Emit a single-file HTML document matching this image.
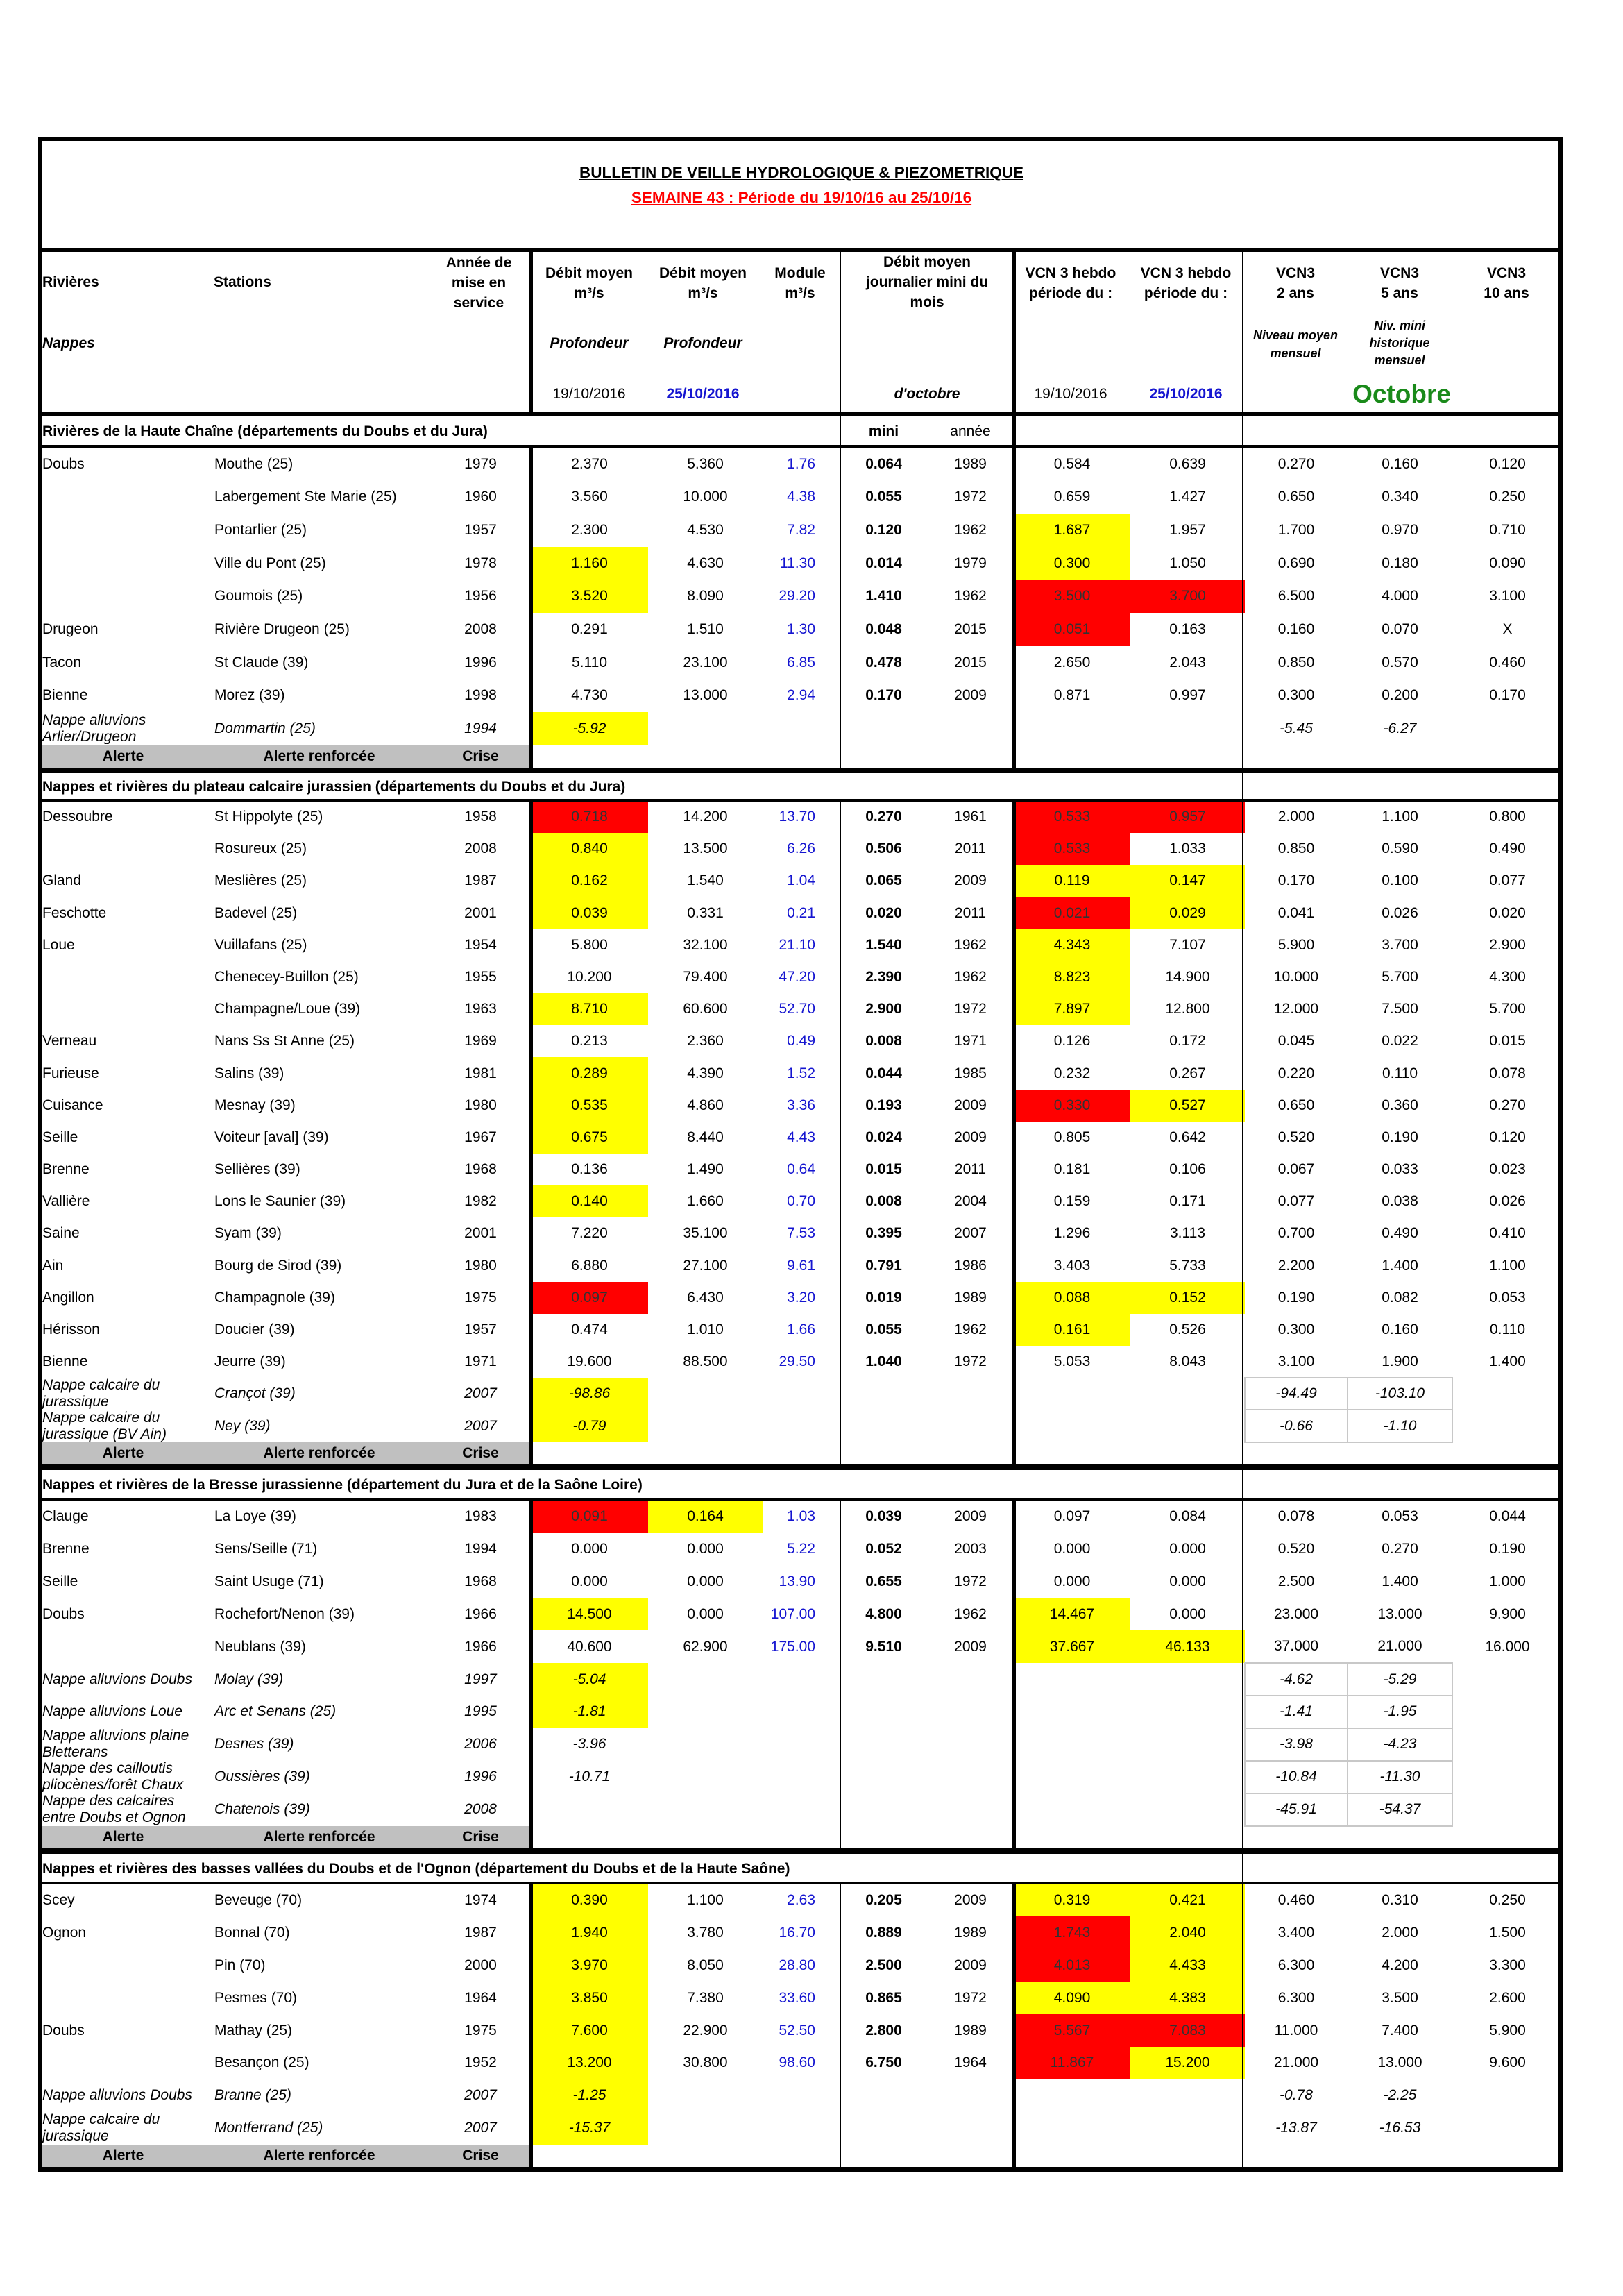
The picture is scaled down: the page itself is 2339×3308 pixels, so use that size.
<!DOCTYPE html>
<html><head><meta charset="utf-8"><style>
html,body{margin:0;padding:0;background:#fff}
body{width:2339px;height:3308px;position:relative;overflow:hidden;font-family:"Liberation Sans",Arial,sans-serif;font-size:21px;color:#000}
.a{position:absolute;white-space:nowrap}
.c{transform:translateX(-50%);text-align:center}
.L{position:absolute;background:#000}
table{position:absolute;left:55px;top:598px;width:2197px;border-collapse:collapse;table-layout:fixed}
td{padding:0;text-align:center;vertical-align:middle;white-space:nowrap;overflow:visible}
tr.d td:nth-child(1){text-align:left;padding-left:6px}
tr.d td:nth-child(2){text-align:left;padding-left:9px}
tr.d td:nth-child(6){text-align:right;padding-right:36px;color:#1515d0}
tr.d td:nth-child(7){font-weight:bold}
tr.n td{font-style:italic}
tr.n td:nth-child(1){font-size:21px;line-height:24px;white-space:normal;overflow:hidden;max-height:46px}
tr.n td:nth-child(1) div{height:44px;overflow:hidden;display:flex;flex-direction:column;justify-content:center}
.Y{background:#ffff00}.R{background:#ff0000;color:#333}
.g td:nth-child(11),.g td:nth-child(12){border:2px solid #c8c8c8}
tr.al td{font-weight:bold}
tr.al td.gr{background:#c0c0c0}
.st{text-align:left!important;padding-left:6px!important;font-weight:bold}
.p8 td{padding-top:8px}
.h1{height:47.67px}.h2{height:46.2px}.h3{height:46.9px}.h4{height:46.875px}
</style></head><body>

<div class="a c" style="left:1155px;top:236px;font-weight:bold;text-decoration:underline;font-size:22.5px">BULLETIN DE VEILLE HYDROLOGIQUE &amp; PIEZOMETRIQUE</div>
<div class="a c" style="left:1155px;top:272px;font-weight:bold;text-decoration:underline;color:#f00;font-size:22.5px">SEMAINE 43 : Période du 19/10/16 au 25/10/16</div>

<div class="a" style="left:61px;top:395px;font-weight:bold">Rivières</div>
<div class="a" style="left:308px;top:395px;font-weight:bold">Stations</div>
<div class="a c" style="left:690px;top:364px;font-weight:bold;line-height:29px">Année de<br>mise en<br>service</div>
<div class="a c" style="left:849px;top:379px;font-weight:bold;line-height:29px">Débit moyen<br>m³/s</div>
<div class="a c" style="left:1013px;top:379px;font-weight:bold;line-height:29px">Débit moyen<br>m³/s</div>
<div class="a c" style="left:1153px;top:379px;font-weight:bold;line-height:29px">Module<br>m³/s</div>
<div class="a c" style="left:1336px;top:363px;font-weight:bold;line-height:29px">Débit moyen<br>journalier mini du<br>mois</div>
<div class="a c" style="left:1543px;top:379px;font-weight:bold;line-height:29px">VCN 3 hebdo<br>période du :</div>
<div class="a c" style="left:1709px;top:379px;font-weight:bold;line-height:29px">VCN 3 hebdo<br>période du :</div>
<div class="a c" style="left:1867px;top:379px;font-weight:bold;line-height:29px">VCN3<br>2 ans</div>
<div class="a c" style="left:2017px;top:379px;font-weight:bold;line-height:29px">VCN3<br>5 ans</div>
<div class="a c" style="left:2171px;top:379px;font-weight:bold;line-height:29px">VCN3<br>10 ans</div>
<div class="a" style="left:61px;top:483px;font-weight:bold;font-style:italic">Nappes</div>
<div class="a c" style="left:849px;top:483px;font-weight:bold;font-style:italic">Profondeur</div>
<div class="a c" style="left:1013px;top:483px;font-weight:bold;font-style:italic">Profondeur</div>
<div class="a c" style="left:1867px;top:470px;font-weight:bold;font-style:italic;font-size:18px;line-height:26px">Niveau moyen<br>mensuel</div>
<div class="a c" style="left:2017px;top:457px;font-weight:bold;font-style:italic;font-size:18px;line-height:25px">Niv. mini<br>historique<br>mensuel</div>
<div class="a c" style="left:849px;top:556px">19/10/2016</div>
<div class="a c" style="left:1013px;top:556px;color:#1515d0;font-weight:bold">25/10/2016</div>
<div class="a c" style="left:1336px;top:556px;font-weight:bold;font-style:italic">d'octobre</div>
<div class="a c" style="left:1543px;top:556px">19/10/2016</div>
<div class="a c" style="left:1709px;top:556px;color:#1515d0;font-weight:bold">25/10/2016</div>
<div class="a c" style="left:2020px;top:547px;color:#1a8a1a;font-weight:bold;font-size:37px">Octobre</div>

<table>
<colgroup><col style="width:245px"><col style="width:320px"><col style="width:145px"><col style="width:169px"><col style="width:165px"><col style="width:112px"><col style="width:125px"><col style="width:125px"><col style="width:168px"><col style="width:165px"><col style="width:148px"><col style="width:151px"><col style="width:159px"></colgroup>
<tr style="height:47px"><td colspan="6" class="st">Rivières de la Haute Chaîne (départements du Doubs et du Jura)</td><td><b>mini</b></td><td>année</td><td colspan="5"></td></tr>
<tr class="d h1"><td>Doubs</td><td>Mouthe (25)</td><td>1979</td><td>2.370</td><td>5.360</td><td>1.76</td><td>0.064</td><td>1989</td><td>0.584</td><td>0.639</td><td>0.270</td><td>0.160</td><td>0.120</td></tr>
<tr class="d h1"><td></td><td>Labergement Ste Marie (25)</td><td>1960</td><td>3.560</td><td>10.000</td><td>4.38</td><td>0.055</td><td>1972</td><td>0.659</td><td>1.427</td><td>0.650</td><td>0.340</td><td>0.250</td></tr>
<tr class="d h1"><td></td><td>Pontarlier (25)</td><td>1957</td><td>2.300</td><td>4.530</td><td>7.82</td><td>0.120</td><td>1962</td><td class="Y">1.687</td><td>1.957</td><td>1.700</td><td>0.970</td><td>0.710</td></tr>
<tr class="d h1"><td></td><td>Ville du Pont (25)</td><td>1978</td><td class="Y">1.160</td><td>4.630</td><td>11.30</td><td>0.014</td><td>1979</td><td class="Y">0.300</td><td>1.050</td><td>0.690</td><td>0.180</td><td>0.090</td></tr>
<tr class="d h1"><td></td><td>Goumois (25)</td><td>1956</td><td class="Y">3.520</td><td>8.090</td><td>29.20</td><td>1.410</td><td>1962</td><td class="R">3.500</td><td class="R">3.700</td><td>6.500</td><td>4.000</td><td>3.100</td></tr>
<tr class="d h1"><td>Drugeon</td><td>Rivière Drugeon (25)</td><td>2008</td><td>0.291</td><td>1.510</td><td>1.30</td><td>0.048</td><td>2015</td><td class="R">0.051</td><td>0.163</td><td>0.160</td><td>0.070</td><td>X</td></tr>
<tr class="d h1"><td>Tacon</td><td>St Claude (39)</td><td>1996</td><td>5.110</td><td>23.100</td><td>6.85</td><td>0.478</td><td>2015</td><td>2.650</td><td>2.043</td><td>0.850</td><td>0.570</td><td>0.460</td></tr>
<tr class="d h1"><td>Bienne</td><td>Morez (39)</td><td>1998</td><td>4.730</td><td>13.000</td><td>2.94</td><td>0.170</td><td>2009</td><td>0.871</td><td>0.997</td><td>0.300</td><td>0.200</td><td>0.170</td></tr>
<tr class="d n h1"><td><div>Nappe alluvions Arlier/Drugeon</div></td><td>Dommartin (25)</td><td>1994</td><td class="Y">-5.92</td><td></td><td></td><td></td><td></td><td></td><td></td><td>-5.45</td><td>-6.27</td><td></td></tr>
<tr class="al" style="height:32px"><td class="gr">Alerte</td><td class="gr">Alerte renforcée</td><td class="gr">Crise</td><td colspan="10"></td></tr>

<tr class="p8" style="height:48px"><td colspan="13" class="st">Nappes et rivières du plateau calcaire jurassien (départements du Doubs et du Jura)</td></tr>
<tr class="d h2"><td>Dessoubre</td><td>St Hippolyte (25)</td><td>1958</td><td class="R">0.718</td><td>14.200</td><td>13.70</td><td>0.270</td><td>1961</td><td class="R">0.533</td><td class="R">0.957</td><td>2.000</td><td>1.100</td><td>0.800</td></tr>
<tr class="d h2"><td></td><td>Rosureux (25)</td><td>2008</td><td class="Y">0.840</td><td>13.500</td><td>6.26</td><td>0.506</td><td>2011</td><td class="R">0.533</td><td>1.033</td><td>0.850</td><td>0.590</td><td>0.490</td></tr>
<tr class="d h2"><td>Gland</td><td>Meslières (25)</td><td>1987</td><td class="Y">0.162</td><td>1.540</td><td>1.04</td><td>0.065</td><td>2009</td><td class="Y">0.119</td><td class="Y">0.147</td><td>0.170</td><td>0.100</td><td>0.077</td></tr>
<tr class="d h2"><td>Feschotte</td><td>Badevel (25)</td><td>2001</td><td class="Y">0.039</td><td>0.331</td><td>0.21</td><td>0.020</td><td>2011</td><td class="R">0.021</td><td class="Y">0.029</td><td>0.041</td><td>0.026</td><td>0.020</td></tr>
<tr class="d h2"><td>Loue</td><td>Vuillafans (25)</td><td>1954</td><td>5.800</td><td>32.100</td><td>21.10</td><td>1.540</td><td>1962</td><td class="Y">4.343</td><td>7.107</td><td>5.900</td><td>3.700</td><td>2.900</td></tr>
<tr class="d h2"><td></td><td>Chenecey-Buillon (25)</td><td>1955</td><td>10.200</td><td>79.400</td><td>47.20</td><td>2.390</td><td>1962</td><td class="Y">8.823</td><td>14.900</td><td>10.000</td><td>5.700</td><td>4.300</td></tr>
<tr class="d h2"><td></td><td>Champagne/Loue (39)</td><td>1963</td><td class="Y">8.710</td><td>60.600</td><td>52.70</td><td>2.900</td><td>1972</td><td class="Y">7.897</td><td>12.800</td><td>12.000</td><td>7.500</td><td>5.700</td></tr>
<tr class="d h2"><td>Verneau</td><td>Nans Ss St Anne (25)</td><td>1969</td><td>0.213</td><td>2.360</td><td>0.49</td><td>0.008</td><td>1971</td><td>0.126</td><td>0.172</td><td>0.045</td><td>0.022</td><td>0.015</td></tr>
<tr class="d h2"><td>Furieuse</td><td>Salins (39)</td><td>1981</td><td class="Y">0.289</td><td>4.390</td><td>1.52</td><td>0.044</td><td>1985</td><td>0.232</td><td>0.267</td><td>0.220</td><td>0.110</td><td>0.078</td></tr>
<tr class="d h2"><td>Cuisance</td><td>Mesnay (39)</td><td>1980</td><td class="Y">0.535</td><td>4.860</td><td>3.36</td><td>0.193</td><td>2009</td><td class="R">0.330</td><td class="Y">0.527</td><td>0.650</td><td>0.360</td><td>0.270</td></tr>
<tr class="d h2"><td>Seille</td><td>Voiteur [aval] (39)</td><td>1967</td><td class="Y">0.675</td><td>8.440</td><td>4.43</td><td>0.024</td><td>2009</td><td>0.805</td><td>0.642</td><td>0.520</td><td>0.190</td><td>0.120</td></tr>
<tr class="d h2"><td>Brenne</td><td>Sellières (39)</td><td>1968</td><td>0.136</td><td>1.490</td><td>0.64</td><td>0.015</td><td>2011</td><td>0.181</td><td>0.106</td><td>0.067</td><td>0.033</td><td>0.023</td></tr>
<tr class="d h2"><td>Vallière</td><td>Lons le Saunier (39)</td><td>1982</td><td class="Y">0.140</td><td>1.660</td><td>0.70</td><td>0.008</td><td>2004</td><td>0.159</td><td>0.171</td><td>0.077</td><td>0.038</td><td>0.026</td></tr>
<tr class="d h2"><td>Saine</td><td>Syam (39)</td><td>2001</td><td>7.220</td><td>35.100</td><td>7.53</td><td>0.395</td><td>2007</td><td>1.296</td><td>3.113</td><td>0.700</td><td>0.490</td><td>0.410</td></tr>
<tr class="d h2"><td>Ain</td><td>Bourg de Sirod (39)</td><td>1980</td><td>6.880</td><td>27.100</td><td>9.61</td><td>0.791</td><td>1986</td><td>3.403</td><td>5.733</td><td>2.200</td><td>1.400</td><td>1.100</td></tr>
<tr class="d h2"><td>Angillon</td><td>Champagnole (39)</td><td>1975</td><td class="R">0.097</td><td>6.430</td><td>3.20</td><td>0.019</td><td>1989</td><td class="Y">0.088</td><td class="Y">0.152</td><td>0.190</td><td>0.082</td><td>0.053</td></tr>
<tr class="d h2"><td>Hérisson</td><td>Doucier (39)</td><td>1957</td><td>0.474</td><td>1.010</td><td>1.66</td><td>0.055</td><td>1962</td><td class="Y">0.161</td><td>0.526</td><td>0.300</td><td>0.160</td><td>0.110</td></tr>
<tr class="d h2"><td>Bienne</td><td>Jeurre (39)</td><td>1971</td><td>19.600</td><td>88.500</td><td>29.50</td><td>1.040</td><td>1972</td><td>5.053</td><td>8.043</td><td>3.100</td><td>1.900</td><td>1.400</td></tr>
<tr class="d n g h2"><td><div>Nappe calcaire du jurassique</div></td><td>Crançot (39)</td><td>2007</td><td class="Y">-98.86</td><td></td><td></td><td></td><td></td><td></td><td></td><td>-94.49</td><td>-103.10</td><td></td></tr>
<tr class="d n g h2"><td><div>Nappe calcaire du jurassique (BV Ain)</div></td><td>Ney (39)</td><td>2007</td><td class="Y">-0.79</td><td></td><td></td><td></td><td></td><td></td><td></td><td>-0.66</td><td>-1.10</td><td></td></tr>
<tr class="al" style="height:32px"><td class="gr">Alerte</td><td class="gr">Alerte renforcée</td><td class="gr">Crise</td><td colspan="10"></td></tr>

<tr class="p8" style="height:52px"><td colspan="13" class="st">Nappes et rivières de la Bresse jurassienne (département du Jura et de la Saône Loire)</td></tr>
<tr class="d h3"><td>Clauge</td><td>La Loye (39)</td><td>1983</td><td class="R">0.091</td><td class="Y">0.164</td><td>1.03</td><td>0.039</td><td>2009</td><td>0.097</td><td>0.084</td><td>0.078</td><td>0.053</td><td>0.044</td></tr>
<tr class="d h3"><td>Brenne</td><td>Sens/Seille (71)</td><td>1994</td><td>0.000</td><td>0.000</td><td>5.22</td><td>0.052</td><td>2003</td><td>0.000</td><td>0.000</td><td>0.520</td><td>0.270</td><td>0.190</td></tr>
<tr class="d h3"><td>Seille</td><td>Saint Usuge (71)</td><td>1968</td><td>0.000</td><td>0.000</td><td>13.90</td><td>0.655</td><td>1972</td><td>0.000</td><td>0.000</td><td>2.500</td><td>1.400</td><td>1.000</td></tr>
<tr class="d h3"><td>Doubs</td><td>Rochefort/Nenon (39)</td><td>1966</td><td class="Y">14.500</td><td>0.000</td><td>107.00</td><td>4.800</td><td>1962</td><td class="Y">14.467</td><td>0.000</td><td>23.000</td><td>13.000</td><td>9.900</td></tr>
<tr class="d h3"><td></td><td>Neublans (39)</td><td>1966</td><td>40.600</td><td>62.900</td><td>175.00</td><td>9.510</td><td>2009</td><td class="Y">37.667</td><td class="Y">46.133</td><td>37.000</td><td>21.000</td><td>16.000</td></tr>
<tr class="d n g h3"><td><div>Nappe alluvions Doubs</div></td><td>Molay (39)</td><td>1997</td><td class="Y">-5.04</td><td></td><td></td><td></td><td></td><td></td><td></td><td>-4.62</td><td>-5.29</td><td></td></tr>
<tr class="d n g h3"><td><div>Nappe alluvions Loue</div></td><td>Arc et Senans (25)</td><td>1995</td><td class="Y">-1.81</td><td></td><td></td><td></td><td></td><td></td><td></td><td>-1.41</td><td>-1.95</td><td></td></tr>
<tr class="d n g h3"><td><div>Nappe alluvions plaine Bletterans</div></td><td>Desnes (39)</td><td>2006</td><td>-3.96</td><td></td><td></td><td></td><td></td><td></td><td></td><td>-3.98</td><td>-4.23</td><td></td></tr>
<tr class="d n g h3"><td><div>Nappe des cailloutis pliocènes/forêt Chaux</div></td><td>Oussières (39)</td><td>1996</td><td>-10.71</td><td></td><td></td><td></td><td></td><td></td><td></td><td>-10.84</td><td>-11.30</td><td></td></tr>
<tr class="d n g h3"><td><div>Nappe des calcaires entre Doubs et Ognon</div></td><td>Chatenois (39)</td><td>2008</td><td></td><td></td><td></td><td></td><td></td><td></td><td></td><td>-45.91</td><td>-54.37</td><td></td></tr>
<tr class="al" style="height:32px"><td class="gr">Alerte</td><td class="gr">Alerte renforcée</td><td class="gr">Crise</td><td colspan="10"></td></tr>

<tr class="p8" style="height:52px"><td colspan="13" class="st">Nappes et rivières des basses vallées du Doubs et de l'Ognon (département du Doubs et de la Haute Saône)</td></tr>
<tr class="d h4"><td>Scey</td><td>Beveuge (70)</td><td>1974</td><td class="Y">0.390</td><td>1.100</td><td>2.63</td><td>0.205</td><td>2009</td><td class="Y">0.319</td><td class="Y">0.421</td><td>0.460</td><td>0.310</td><td>0.250</td></tr>
<tr class="d h4"><td>Ognon</td><td>Bonnal (70)</td><td>1987</td><td class="Y">1.940</td><td>3.780</td><td>16.70</td><td>0.889</td><td>1989</td><td class="R">1.743</td><td class="Y">2.040</td><td>3.400</td><td>2.000</td><td>1.500</td></tr>
<tr class="d h4"><td></td><td>Pin (70)</td><td>2000</td><td class="Y">3.970</td><td>8.050</td><td>28.80</td><td>2.500</td><td>2009</td><td class="R">4.013</td><td class="Y">4.433</td><td>6.300</td><td>4.200</td><td>3.300</td></tr>
<tr class="d h4"><td></td><td>Pesmes (70)</td><td>1964</td><td class="Y">3.850</td><td>7.380</td><td>33.60</td><td>0.865</td><td>1972</td><td class="Y">4.090</td><td class="Y">4.383</td><td>6.300</td><td>3.500</td><td>2.600</td></tr>
<tr class="d h4"><td>Doubs</td><td>Mathay (25)</td><td>1975</td><td class="Y">7.600</td><td>22.900</td><td>52.50</td><td>2.800</td><td>1989</td><td class="R">5.567</td><td class="R">7.083</td><td>11.000</td><td>7.400</td><td>5.900</td></tr>
<tr class="d h4"><td></td><td>Besançon (25)</td><td>1952</td><td class="Y">13.200</td><td>30.800</td><td>98.60</td><td>6.750</td><td>1964</td><td class="R">11.867</td><td class="Y">15.200</td><td>21.000</td><td>13.000</td><td>9.600</td></tr>
<tr class="d n h4"><td><div>Nappe alluvions Doubs</div></td><td>Branne (25)</td><td>2007</td><td class="Y">-1.25</td><td></td><td></td><td></td><td></td><td></td><td></td><td>-0.78</td><td>-2.25</td><td></td></tr>
<tr class="d n h4"><td><div>Nappe calcaire du jurassique</div></td><td>Montferrand (25)</td><td>2007</td><td class="Y">-15.37</td><td></td><td></td><td></td><td></td><td></td><td></td><td>-13.87</td><td>-16.53</td><td></td></tr>
<tr class="al" style="height:32px"><td class="gr">Alerte</td><td class="gr">Alerte renforcée</td><td class="gr">Crise</td><td colspan="10"></td></tr>
</table>

<div class="L" style="left:55px;top:197px;width:2197px;height:6px"></div>
<div class="L" style="left:55px;top:357px;width:2197px;height:6px"></div>
<div class="L" style="left:55px;top:594px;width:2197px;height:6px"></div>
<div class="L" style="left:55px;top:641px;width:2197px;height:5px"></div>
<div class="L" style="left:55px;top:1106px;width:2197px;height:8px"></div>
<div class="L" style="left:55px;top:1151px;width:2197px;height:4px"></div>
<div class="L" style="left:55px;top:2110px;width:2197px;height:8px"></div>
<div class="L" style="left:55px;top:2158px;width:2197px;height:4px"></div>
<div class="L" style="left:55px;top:2663px;width:2197px;height:8px"></div>
<div class="L" style="left:55px;top:2711px;width:2197px;height:4px"></div>
<div class="L" style="left:55px;top:3122px;width:2197px;height:8px"></div>
<div class="L" style="left:55px;top:197px;width:6px;height:2933px"></div>
<div class="L" style="left:2246px;top:197px;width:6px;height:2933px"></div>
<div class="L" style="left:763px;top:357px;width:5px;height:241px"></div>
<div class="L" style="left:763px;top:641px;width:5px;height:467px"></div>
<div class="L" style="left:763px;top:1151px;width:5px;height:961px"></div>
<div class="L" style="left:763px;top:2158px;width:5px;height:507px"></div>
<div class="L" style="left:763px;top:2711px;width:5px;height:413px"></div>
<div class="L" style="left:1210px;top:357px;width:2px;height:751px"></div>
<div class="L" style="left:1210px;top:1151px;width:2px;height:961px"></div>
<div class="L" style="left:1210px;top:2158px;width:2px;height:507px"></div>
<div class="L" style="left:1210px;top:2711px;width:2px;height:413px"></div>
<div class="L" style="left:1459px;top:357px;width:5px;height:751px"></div>
<div class="L" style="left:1459px;top:1151px;width:5px;height:961px"></div>
<div class="L" style="left:1459px;top:2158px;width:5px;height:507px"></div>
<div class="L" style="left:1459px;top:2711px;width:5px;height:413px"></div>
<div class="L" style="left:1790px;top:357px;width:2px;height:2770px"></div>
</body></html>
